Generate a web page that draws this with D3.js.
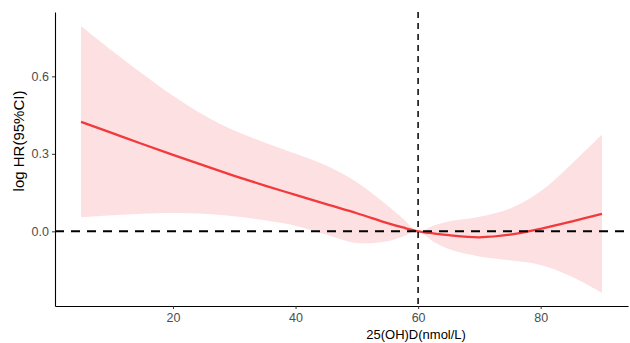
<!DOCTYPE html>
<html>
<head>
<meta charset="utf-8">
<script src="https://cdn.jsdelivr.net/npm/d3@7"></script>
<style>
  body { margin: 0; background: #fff; }
  svg { display: block; font-family: "Liberation Sans", Arial, sans-serif; }
</style>
</head>
<body>
<svg id="chart" width="630" height="343"></svg>
<script>
// values (x = 25(OH)D nmol/L)
const vitD = [5, 10, 15, 20, 25, 30, 35, 40, 45, 50, 55, 57.5, 60, 62.5, 65, 70, 75, 80, 85, 90];
const logHR = [0.424, 0.381, 0.338, 0.296, 0.255, 0.215, 0.177, 0.141, 0.105, 0.070, 0.032, 0.015, 0, -0.008, -0.015, -0.023, -0.013, 0.010, 0.038, 0.068];
const upperCI = [0.795, 0.70, 0.61, 0.525, 0.45, 0.39, 0.343, 0.30, 0.255, 0.19, 0.10, 0.05, 0, 0.022, 0.038, 0.056, 0.088, 0.155, 0.26, 0.375];
const lowerCI = [0.054, 0.062, 0.068, 0.071, 0.068, 0.058, 0.043, 0.022, -0.012, -0.045, -0.038, -0.02, 0, -0.04, -0.068, -0.097, -0.112, -0.13, -0.175, -0.238];
const xTicks = [20, 40, 60, 80];
const yTicks = [0.0, 0.3, 0.6];
const refX = 60;

const margin = {top: 12, right: 2, bottom: 37, left: 55};
const width = 630 - margin.left - margin.right;
const height = 343 - margin.top - margin.bottom;

const svg = d3.select('#chart');
const g = svg.append('g')
  .attr('transform', 'translate(' + margin.left + ',' + margin.top + ')');

const x = d3.scaleLinear().domain([0.75, 94.25]).range([0, width]);
const y = d3.scaleLinear().domain([-0.289, 0.849]).range([height, 0]);

const rows = vitD.map((v, i) => ({x: v, y: logHR[i], lo: lowerCI[i], hi: upperCI[i]}));

// confidence band
g.append('path')
  .datum(rows)
  .attr('fill', '#fce0e2')
  .attr('d', d3.area()
    .x((d) => x(d.x))
    .y0((d) => y(d.lo))
    .y1((d) => y(d.hi))
    .curve(d3.curveCatmullRom));

// fitted curve
g.append('path')
  .datum(rows)
  .attr('fill', 'none')
  .attr('stroke', '#f2393c')
  .attr('stroke-width', 2.3)
  .attr('d', d3.line()
    .x((d) => x(d.x))
    .y((d) => y(d.y))
    .curve(d3.curveCatmullRom));

// reference lines
g.append('line')
  .attr('x1', 0).attr('x2', width)
  .attr('y1', y(0)).attr('y2', y(0))
  .attr('stroke', '#000')
  .attr('stroke-width', 2)
  .attr('stroke-dasharray', '9,7');

g.append('line')
  .attr('x1', x(refX)).attr('x2', x(refX))
  .attr('y1', 0).attr('y2', height)
  .attr('stroke', '#111')
  .attr('stroke-width', 1.6)
  .attr('stroke-dasharray', '6,5');

// axes
const xAxis = g.append('g')
  .attr('transform', 'translate(0,' + height + ')')
  .call(d3.axisBottom(x).tickValues(xTicks).tickSize(3).tickPadding(4).tickSizeOuter(0));

const yAxis = g.append('g')
  .call(d3.axisLeft(y).tickValues(yTicks).tickFormat(d3.format('.1f')).tickSize(3).tickPadding(3).tickSizeOuter(0));

[xAxis, yAxis].forEach((a) => {
  a.select('.domain').attr('stroke', '#000').attr('stroke-width', 1.1);
  a.selectAll('.tick line').attr('stroke', '#333').attr('stroke-width', 1);
  a.selectAll('.tick text')
    .attr('fill', '#4d4d4d')
    .style('font-size', '12.5px')
    .style('font-family', '"Liberation Sans", Arial, sans-serif');
});

// axis titles
svg.append('text')
  .attr('x', margin.left + x(refX) - 2)
  .attr('y', 339)
  .attr('text-anchor', 'middle')
  .attr('fill', '#000')
  .style('font-size', '13px')
  .text('25(OH)D(nmol/L)');

svg.append('text')
  .attr('transform', 'translate(24,141) rotate(-90)')
  .attr('text-anchor', 'middle')
  .attr('fill', '#000')
  .style('font-size', '15px')
  .text('log HR(95%CI)');
</script>
</body>
</html>
